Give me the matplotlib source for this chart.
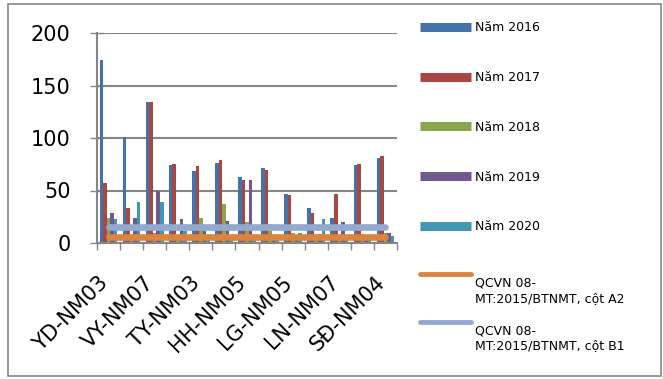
import numpy as np
import matplotlib
matplotlib.use("Agg")
import matplotlib.pyplot as plt
import matplotlib.transforms as mtransforms
from matplotlib.lines import Line2D
from matplotlib.patches import Rectangle
from matplotlib.legend_handler import HandlerLine2D

plt.rcParams['font.family'] = ['DejaVu Sans']

# 13 monitoring sites, only every other one is labelled on the axis
n_sites = 13
tick_labels = ['YD-NM03', 'VY-NM07', 'TY-NM03', 'HH-NM05', 'LG-NM05', 'LN-NM07', 'SĐ-NM04']

years = ['Năm 2016', 'Năm 2017', 'Năm 2018', 'Năm 2019', 'Năm 2020']
v2016 = [174, 101, 134, 74, 69, 76, 63, 71, 47, 33, 24, 74, 81]
v2017 = [57, 33, 134, 75, 73, 79, 60, 70, 46, 29, 47, 75, 83]
v2018 = [24, 7, 10, 8, 24, 37, 20, 18, 10, 6, 8, 9, 10]
v2019 = [29, 24, 50, 23, 11, 21, 60, 8, 6, 9, 20, 7, 10]
v2020 = [23, 39, 39, 11, 6, 5, 5, 5, 10, 23, 5, 5, 7]

qcvn_a2 = 6
qcvn_b1 = 15
qcvn_labels = ['QCVN 08-\nMT:2015/BTNMT, cột A2', 'QCVN 08-\nMT:2015/BTNMT, cột B1']

bar_colors = ['#4672AA', '#AA4643', '#89A54E', '#71588F', '#4198AF']
line_colors = ['#DB843D', '#93A9CF']
grey = '#868686'


class TopLineHandler(HandlerLine2D):
    # put the legend line next to the first text line, like Excel does
    def create_artists(self, legend, orig_handle, xdescent, ydescent,
                       width, height, fontsize, trans):
        arts = super().create_artists(legend, orig_handle, xdescent, ydescent,
                                      width, height, fontsize, trans)
        for a in arts:
            a.set_ydata(np.asarray(a.get_ydata()) + 1.4 * fontsize)
        return arts


fig = plt.figure(figsize=(6.63, 3.79), dpi=100)
ax = fig.add_axes([97 / 663, 1 - 243 / 379, 300 / 663, 210 / 379])

x = np.arange(n_sites)
series = [v2016, v2017, v2018, v2019, v2020]
w = 1 / 6.5
for k, (vals, col) in enumerate(zip(series, bar_colors)):
    ax.bar(x + (k - 2) * w, vals, w, color=col, edgecolor='none', zorder=2)

ax.plot(x, [qcvn_a2] * n_sites, color=line_colors[0], lw=4.8,
        solid_capstyle='round', zorder=3)
ax.plot(x, [qcvn_b1] * n_sites, color=line_colors[1], lw=4.8,
        solid_capstyle='round', zorder=3)

ax.set_xlim(-0.5, n_sites - 0.5)
ax.set_ylim(0, 200)
ax.set_yticks([0, 50, 100, 150, 200])
ax.yaxis.grid(True, color=grey, lw=1.5, zorder=0)
ax.tick_params(axis='y', labelsize=15, width=1, color=grey,
               direction='inout', length=10, pad=14)

ax.set_xticks(np.arange(-0.5, n_sites, 1))
ax.set_xticklabels([])
ax.tick_params(axis='x', which='major', length=5, color=grey, width=1)
ax.set_xticks(x[::2], minor=True)
ax.set_xticklabels(tick_labels, minor=True, rotation=45, ha='right', fontsize=15)
ax.tick_params(axis='x', which='minor', length=0, pad=21)
shift = mtransforms.ScaledTranslation(3 / 100, 0, fig.dpi_scale_trans)
for lab in ax.get_xticklabels(minor=True):
    lab.set_transform(lab.get_transform() + shift)

for s in ['top', 'right']:
    ax.spines[s].set_visible(False)
for s in ['left', 'bottom']:
    ax.spines[s].set_color(grey)
    ax.spines[s].set_linewidth(1.5)

bar_handles = [Line2D([], [], color=c, lw=6.5, solid_capstyle='butt') for c in bar_colors]
leg1 = fig.legend(bar_handles, years, loc='upper left',
                  bbox_to_anchor=(420 / 663, 1 - 21 / 379), frameon=False,
                  fontsize=9, handlelength=4.1, handletextpad=0.3,
                  labelspacing=2.95, borderaxespad=0, borderpad=0)

line_handles = [Line2D([], [], color=c, lw=3.5, solid_capstyle='round') for c in line_colors]
leg2 = fig.legend(line_handles, qcvn_labels, loc='upper left',
                  bbox_to_anchor=(420 / 663, 1 - 277 / 379), frameon=False,
                  fontsize=9, handlelength=4.1, handletextpad=0.3,
                  labelspacing=1.55, borderaxespad=0, borderpad=0,
                  handler_map={Line2D: TopLineHandler()})

fig.add_artist(Rectangle((8 / 663, 3 / 379), 653 / 663, 372 / 379,
                         transform=fig.transFigure, fill=False,
                         edgecolor=grey, lw=1.2))

fig.savefig('out.png', dpi=100)
